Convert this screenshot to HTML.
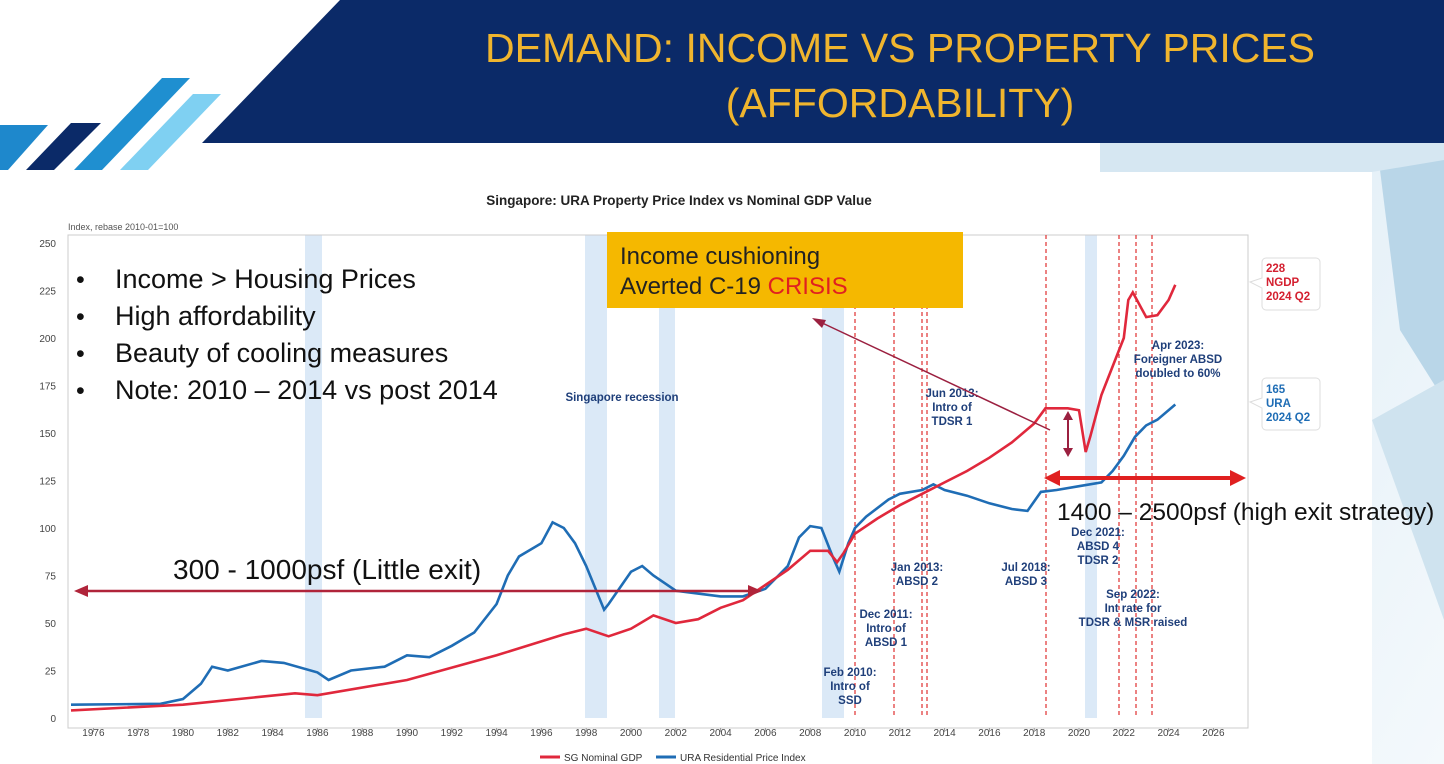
<!DOCTYPE html>
<html><head><meta charset="utf-8"><style>
body{margin:0;width:1444px;height:764px;overflow:hidden;background:#fff;font-family:"Liberation Sans",sans-serif}
svg{position:absolute;left:0;top:0}
</style></head><body>
<svg width="1444" height="764" viewBox="0 0 1444 764" id="s">
<defs><linearGradient id="bg" x1="0" y1="0" x2="1" y2="1"><stop offset="0" stop-color="#dcebf5"/><stop offset="1" stop-color="#f4f9fc"/></linearGradient></defs>
<rect x="0" y="0" width="1444" height="764" fill="#fff"/>
<rect x="1100" y="140" width="344" height="624" fill="url(#bg)"/>
<polygon points="1380,170 1444,150 1444,400 1400,330" fill="#b9d6e8"/>
<polygon points="1372,420 1444,380 1444,620" fill="#cfe3ef"/>
<polygon points="1100,143 1444,143 1444,160 1372,172 1100,172" fill="#d6e7f2"/>
<polygon points="340,0 1444,0 1444,143 202,143" fill="#0b2a68"/>
<polygon points="0,125 48,125 8,170 0,170" fill="#1e88cc"/>
<polygon points="71,123 101,123 54,170 26,170" fill="#0b2a68"/>
<polygon points="162,78 190,78 102,170 74,170" fill="#1f8fd0"/>
<polygon points="193,94 221,94 148,170 120,170" fill="#7fd0f2"/>
<text x="900" y="62" text-anchor="middle" font-family="Liberation Sans" font-size="41" fill="#f0b52e">DEMAND: INCOME VS PROPERTY PRICES</text>
<text x="900" y="117" text-anchor="middle" font-family="Liberation Sans" font-size="41" fill="#f0b52e">(AFFORDABILITY)</text>
<rect x="0" y="172" width="1372" height="592" fill="#fff"/>
<text x="679" y="205" text-anchor="middle" font-size="13.5" font-weight="bold" fill="#222">Singapore: URA Property Price Index vs Nominal GDP Value</text>
<text x="68" y="230" font-size="9" fill="#555">Index, rebase 2010-01=100</text>
<g id="plot"></g>
</svg>
<script>
const ns="http://www.w3.org/2000/svg",g=document.getElementById("plot");
function el(t,a,txt){const e=document.createElementNS(ns,t);for(const k in a)e.setAttribute(k,a[k]);if(txt!=null)e.textContent=txt;g.appendChild(e);return e}
const X=y=>855+(y-2010)*22.4,Y=v=>718-v*1.9;
[[305,322],[585,607],[659,675],[822,844],[1085,1097]].forEach(b=>el("rect",{x:b[0],y:235,width:b[1]-b[0],height:483,fill:"#dbe9f7"}));
el("rect",{x:68,y:235,width:1180,height:493,fill:"none",stroke:"#ccc"});
for(let v=0;v<=250;v+=25){el("text",{x:56,y:Y(v)+4,"text-anchor":"end","font-size":10,fill:"#444"},v)}
for(let y=1976;y<=2026;y+=2){el("text",{x:X(y),y:736,"text-anchor":"middle","font-size":10,fill:"#444"},y);el("line",{x1:X(y),x2:X(y),y1:728,y2:732,stroke:"#999"})}
[855,894,922,927,1046,1119,1136,1152].forEach(x=>el("line",{x1:x,x2:x,y1:235,y2:718,stroke:"#e03030","stroke-width":1.2,"stroke-dasharray":"4,3"}));
const ura=[[1975,7],[1979,7.5],[1980,10],[1980.8,18],[1981.3,27],[1982,25],[1983.5,30],[1984.5,29],[1986,24],[1986.5,20],[1987.5,25],[1989,27],[1990,33],[1991,32],[1992,38],[1993,45],[1994,60],[1994.5,75],[1995,85],[1996,92],[1996.5,103],[1997,100],[1997.5,92],[1998,80],[1998.8,57],[1999,60],[2000,77],[2000.5,80],[2001,75],[2001.5,71],[2002,67],[2004,64],[2005,64],[2006,68],[2007,80],[2007.5,95],[2008,101],[2008.5,100],[2009,85],[2009.3,77],[2009.7,92],[2010,100],[2010.5,106],[2011.5,115],[2012,118],[2013,120],[2013.5,123],[2014,120],[2015,117],[2016,113],[2017,110],[2017.7,109],[2018.3,119],[2019,120],[2020,122],[2021,124],[2021.5,130],[2022,138],[2022.5,148],[2023,154],[2023.5,157],[2024.3,165]];
const gdp=[[1975,4],[1980,7],[1985,13],[1986,12],[1990,20],[1994,33],[1997,44],[1998,47],[1999,43],[2000,47],[2001,54],[2002,50],[2003,52],[2004,58],[2005,62],[2006,70],[2007,78],[2008,88],[2008.8,88],[2009.2,82],[2009.5,87],[2010,97],[2011,105],[2012,112],[2013,118],[2014,124],[2015,130],[2016,137],[2017,145],[2018,155],[2018.5,163],[2019.5,163],[2020,162],[2020.3,140],[2020.5,148],[2021,170],[2021.5,185],[2022,200],[2022.2,220],[2022.4,224],[2023,211],[2023.5,212],[2024,220],[2024.3,228]];
const P=d=>d.map(p=>X(p[0]).toFixed(1)+","+Y(p[1]).toFixed(1)).join(" ");
el("polyline",{points:P(ura),fill:"none",stroke:"#1f6db5","stroke-width":2.6});
el("polyline",{points:P(gdp),fill:"none",stroke:"#e0283c","stroke-width":2.6});
function lbl(x,y,lines,c,anchor){lines.forEach((l,i)=>el("text",{x:x,y:y+i*14,"text-anchor":anchor||"middle","font-size":11.5,"font-weight":"bold",fill:c||"#1f3f7a"},l))}
lbl(622,401,["Singapore recession"]);
lbl(952,397,["Jun 2013:","Intro of","TDSR 1"]);
lbl(917,571,["Jan 2013:","ABSD 2"]);
lbl(1026,571,["Jul 2018:","ABSD 3"]);
lbl(1098,536,["Dec 2021:","ABSD 4","TDSR 2"]);
lbl(1133,598,["Sep 2022:","Int rate for","TDSR & MSR raised"]);
lbl(886,618,["Dec 2011:","Intro of","ABSD 1"]);
lbl(850,676,["Feb 2010:","Intro of","SSD"]);
lbl(1178,349,["Apr 2023:","Foreigner ABSD","doubled to 60%"]);
el("path",{d:"M1266,258 h50 a4,4 0 0 1 4,4 v44 a4,4 0 0 1 -4,4 h-50 a4,4 0 0 1 -4,-4 v-18 l-12,-6 12,-4 v-16 a4,4 0 0 1 4,-4z",fill:"#fff",stroke:"#ddd"});
lbl(1266,272,["228","NGDP","2024 Q2"],"#d42030","start");
el("path",{d:"M1266,378 h50 a4,4 0 0 1 4,4 v44 a4,4 0 0 1 -4,4 h-50 a4,4 0 0 1 -4,-4 v-18 l-12,-6 12,-4 v-16 a4,4 0 0 1 4,-4z",fill:"#fff",stroke:"#ddd"});
lbl(1266,393,["165","URA","2024 Q2"],"#1f6db5","start");
["Income > Housing Prices","High affordability","Beauty of cooling measures","Note: 2010 – 2014 vs post 2014"].forEach((t,i)=>{el("text",{x:76,y:288+i*37,"font-size":25,fill:"#111"},"•");el("text",{x:115,y:288+i*37,"font-size":27,fill:"#111"},t)});
el("rect",{x:607,y:232,width:356,height:76,fill:"#f5b800"});
el("text",{x:620,y:264,"font-size":24,fill:"#222"},"Income cushioning");
const t=el("text",{x:620,y:294,"font-size":24,fill:"#222"},"Averted C-19 ");
const s=document.createElementNS(ns,"tspan");s.setAttribute("fill","#e02020");s.textContent="CRISIS";t.appendChild(s);
el("line",{x1:1050,y1:430,x2:818,y2:321,stroke:"#9b2040","stroke-width":1.5});
el("polygon",{points:"812,318 826,320 822,328",fill:"#9b2040"});
el("line",{x1:1068,y1:418,x2:1068,y2:450,stroke:"#9b2040","stroke-width":2});
el("polygon",{points:"1063,420 1073,420 1068,411",fill:"#9b2040"});el("polygon",{points:"1063,448 1073,448 1068,457",fill:"#9b2040"});
el("line",{x1:85,y1:591,x2:750,y2:591,stroke:"#b0243a","stroke-width":2.5});
el("polygon",{points:"74,591 88,585 88,597",fill:"#b0243a"});el("polygon",{points:"762,591 748,585 748,597",fill:"#b0243a"});
el("text",{x:173,y:579,"font-size":28,fill:"#111"},"300 - 1000psf (Little exit)");
el("line",{x1:1055,y1:478,x2:1235,y2:478,stroke:"#e02020","stroke-width":4});
el("polygon",{points:"1044,478 1060,470 1060,486",fill:"#e02020"});el("polygon",{points:"1246,478 1230,470 1230,486",fill:"#e02020"});
el("text",{x:1057,y:520,"font-size":24.5,fill:"#111"},"1400 – 2500psf (high exit strategy)");
el("line",{x1:540,y1:757,x2:560,y2:757,stroke:"#e0283c","stroke-width":3});
el("text",{x:564,y:761,"font-size":10,fill:"#333"},"SG Nominal GDP");
el("line",{x1:656,y1:757,x2:676,y2:757,stroke:"#1f6db5","stroke-width":3});
el("text",{x:680,y:761,"font-size":10,fill:"#333"},"URA Residential Price Index");
</script>
</body></html>
